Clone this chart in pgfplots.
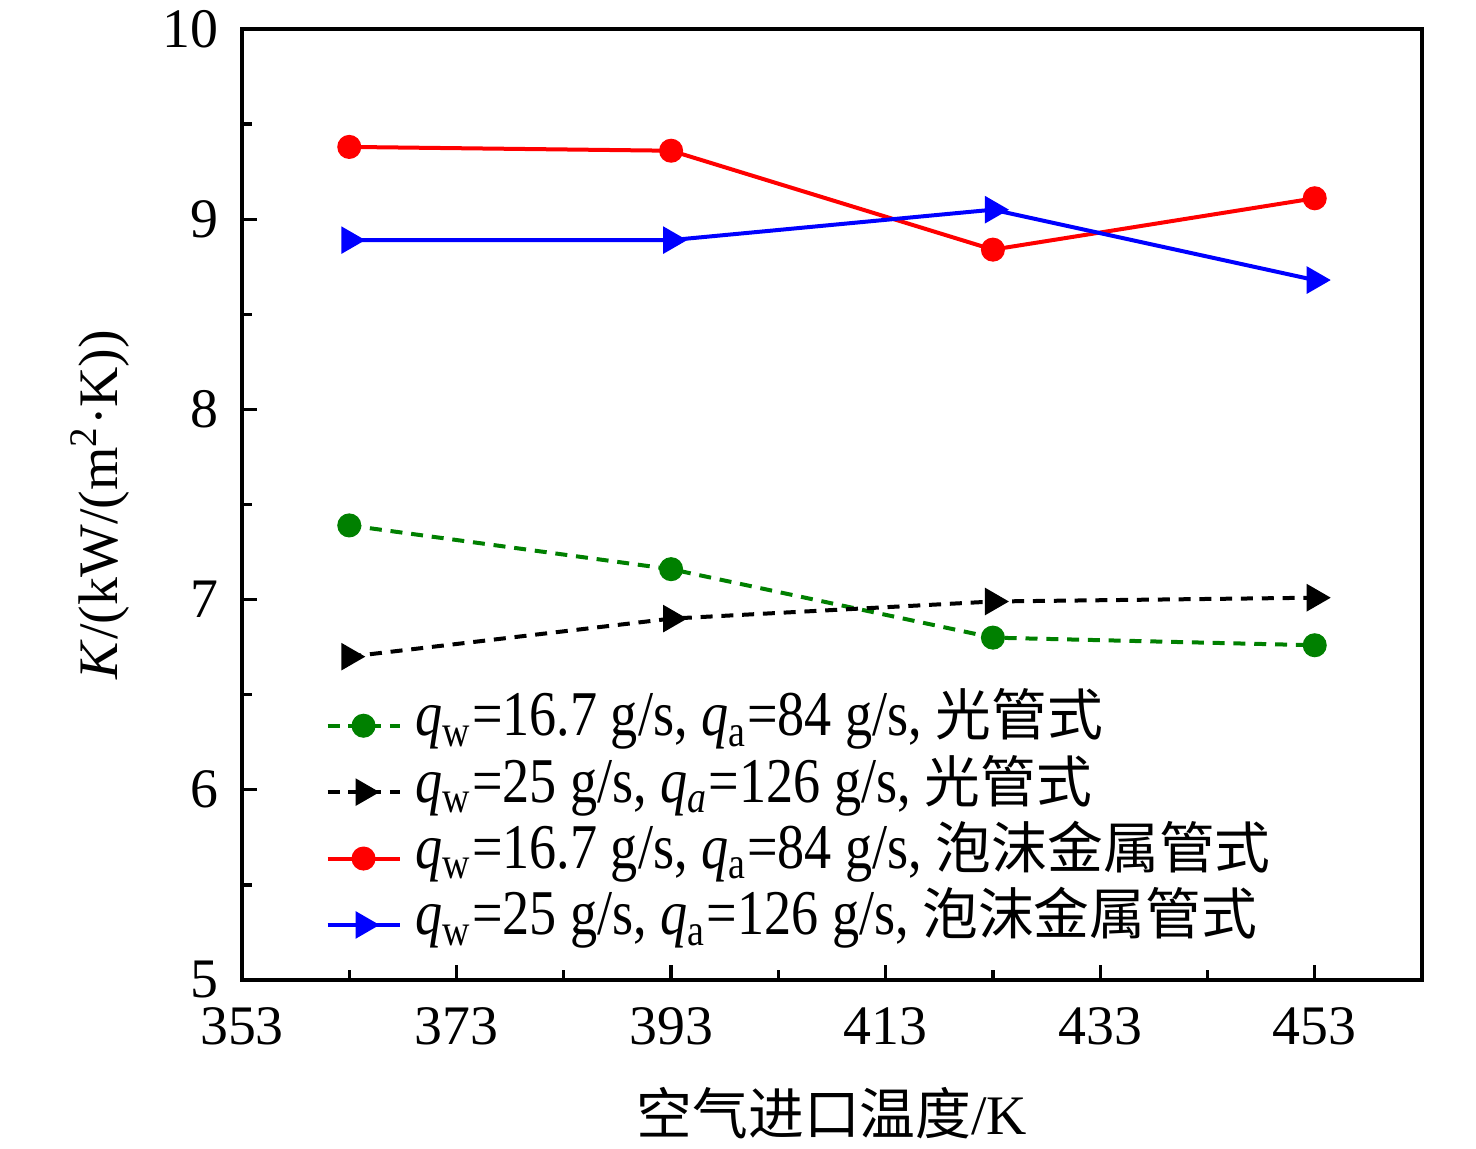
\documentclass[border=0pt]{standalone}
\usepackage{fontspec}
\setmainfont{Liberation Serif}
\newfontfamily\cjk{Noto Sans CJK SC}
\newfontfamily\cond{Liberation Serif}[FakeStretch=0.85]
\usepackage{pgfplots}
\pgfplotsset{compat=1.18}
\newcommand{\legtxt}[1]{\hspace*{3bp}{\fontsize{16}{18}\cond #1}}
\newcommand{\legcjk}[1]{{\fontsize{14}{18}\selectfont\cjk #1}}
\begin{document}
\fontsize{14}{16}\selectfont
\begin{tikzpicture}
\useasboundingbox (-60.5bp,-42.25bp) rectangle (308.5bp,245bp);
\begin{axis}[
  at={(0,0)}, anchor=south west,
  scale only axis, width=295bp, height=237.75bp,
  xmin=353, xmax=463, ymin=5, ymax=10,
  xtick={353,373,393,413,433,453},
  ytick={5,6,7,8,9,10},
  minor x tick num=1, minor y tick num=1,
  xtick pos=bottom, ytick pos=left,
  tick align=inside,
  major tick length=3.75bp, minor tick length=2.5bp,
  every tick/.style={line width=0.8bp, black},
  axis line style={line width=0.9bp},
  /pgf/number format/assume math mode=true,
  /pgf/number format/1000 sep={},
  ticklabel style={font=\fontsize{14}{16}\selectfont},
  xticklabel style={yshift=-2bp},
  yticklabel style={xshift=-1bp},
  xlabel={{\cjk 空气进口温度}/K},
  ylabel={\textit{K}/(kW/(m\textsuperscript{2}·K))},
  xlabel style={font=\fontsize{14}{16}\selectfont, at={(axis description cs:0.5,0)}, anchor=center, yshift=-33.25bp},
  ylabel style={font=\fontsize{14}{16}\selectfont, at={(axis description cs:0,0.5)}, anchor=center, yshift=35.5bp},
  legend style={at={(0.06,0.3115)}, anchor=north west, draw=none, fill=none,
    nodes={inner sep=0.5bp, text height=10.3bp, text depth=5.3bp},
    row sep=0bp},
  legend cell align=left,
  legend image code/.code={
    \draw[mark repeat=2,mark phase=2,#1] plot coordinates {(0bp,0bp) (9bp,0bp) (18bp,0bp)};
  },
]
\addplot[green!50!black, line width=1bp, dash pattern=on 3bp off 2.2bp, mark=*, mark size=2.5bp, mark options={solid}]
  coordinates {(363,7.39) (393,7.16) (423,6.80) (453,6.76)};
\addlegendentry{\legtxt{\textit{q}\textsubscript{w}=16.7 g/s, \textit{q}\textsubscript{a}=84 g/s, }\legcjk{光管式}}
\addplot[black, line width=1bp, dash pattern=on 3bp off 2.2bp, mark=triangle*, mark size=3bp, mark options={solid, rotate=-90}]
  coordinates {(363,6.70) (393,6.90) (423,6.99) (453,7.01)};
\addlegendentry{\legtxt{\textit{q}\textsubscript{w}=25 g/s, \textit{q}\textsubscript{\textit{a}}=126 g/s, }\legcjk{光管式}}
\addplot[red, line width=1bp, mark=*, mark size=2.5bp]
  coordinates {(363,9.38) (393,9.36) (423,8.84) (453,9.11)};
\addlegendentry{\legtxt{\textit{q}\textsubscript{w}=16.7 g/s, \textit{q}\textsubscript{a}=84 g/s, }\legcjk{泡沫金属管式}}
\addplot[blue, line width=1bp, mark=triangle*, mark size=3bp, mark options={rotate=-90}]
  coordinates {(363,8.89) (393,8.89) (423,9.05) (453,8.68)};
\addlegendentry{\legtxt{\textit{q}\textsubscript{w}=25 g/s, \textit{q}\textsubscript{a}=126 g/s, }\legcjk{泡沫金属管式}}
\end{axis}
\end{tikzpicture}
\end{document}
